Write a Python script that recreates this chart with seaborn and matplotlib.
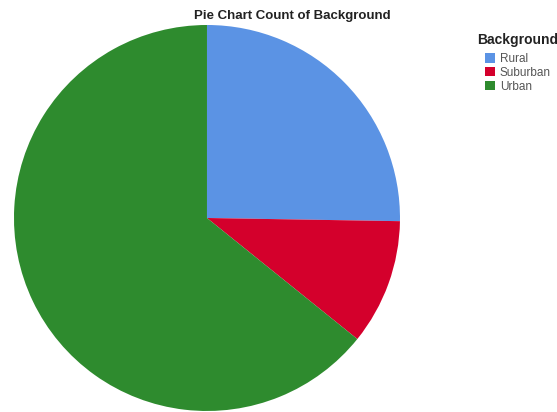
import matplotlib
matplotlib.use("Agg")
import matplotlib.pyplot as plt
import seaborn as sns

categories = ["Rural", "Suburban", "Urban"]
counts = [24, 10, 61]
colors = ["#5B93E4", "#D4002C", "#2E8B2E"]

sns.set_theme(style="white")
plt.rcParams["font.family"] = ["Liberation Sans", "DejaVu Sans"]
palette = sns.color_palette(colors)

fig = plt.figure(figsize=(5.57, 4.12), dpi=100)
ax = fig.add_axes([0.0251, 0.0024, 0.693, 0.937])
wedges, _ = ax.pie(counts, colors=palette, startangle=90, counterclock=False,
                   wedgeprops=dict(linewidth=0))
ax.set_aspect("equal")
ax.set_xlim(-1, 1)
ax.set_ylim(-1, 1)
ax.axis("off")

fig.text(292 / 557, 1 - 16 / 412, "Pie Chart Count of Background", ha="center",
         va="center", fontsize=9.5, fontweight="bold", color="#222222")

# legend heading, then the swatches indented beneath it
fig.text(477 / 557, 1 - 40 / 412, "Background", ha="left", va="center",
         fontsize=10, fontweight="bold", color="#222222")
leg = fig.legend(wedges, categories, loc="upper left",
                 bbox_to_anchor=(485 / 557, 1 - 53 / 412), frameon=False,
                 fontsize=8.5, handlelength=0.85, handleheight=0.85,
                 handletextpad=0.4, labelspacing=0.15, borderpad=0.0,
                 borderaxespad=0.0)
for t in leg.get_texts():
    t.set_color("#555555")

fig.savefig("out.png", dpi=100)
